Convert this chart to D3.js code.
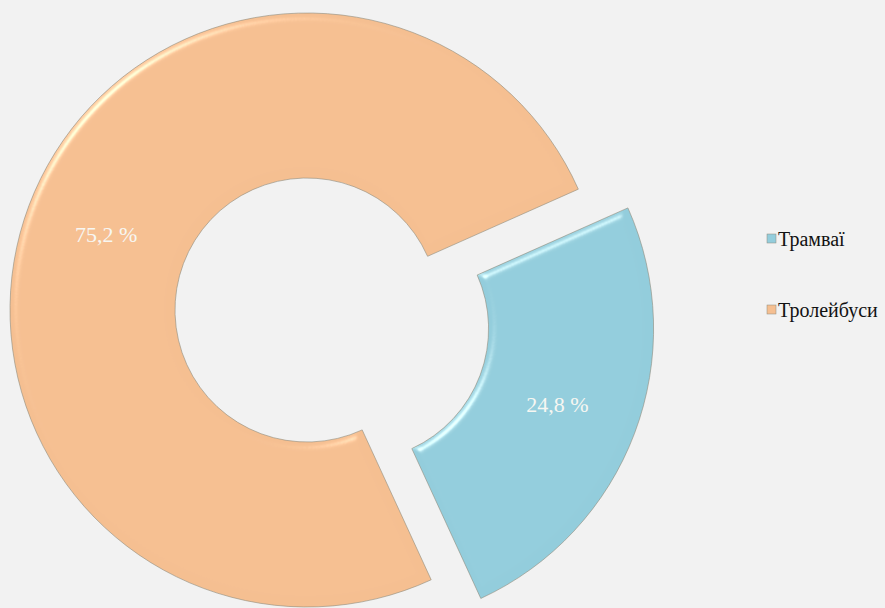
<!DOCTYPE html>
<html>
<head>
    <meta charset="utf-8">
    <title>Трамваї / Тролейбуси</title>
    <script src="https://cdn.jsdelivr.net/npm/d3@7"></script>
    <style>
        html, body {
            margin: 0;
            padding: 0;
            background: #f2f2f2;
        }
        svg {
            display: block;
        }
        .slice-label {
            font-family: "Liberation Serif", "Times New Roman", "DejaVu Serif", serif;
            font-size: 22px;
            fill: #f7f7f2;
        }
        .legend-text {
            font-family: "Liberation Serif", "Times New Roman", "DejaVu Serif", serif;
            font-size: 20px;
            fill: #111;
        }
    </style>
</head>
<body>
    <div id="chart"></div>

    <script>
        // data
        var categories = ["Трамваї", "Тролейбуси"];
        var values = [24.8, 75.2];
        var labels = ["24,8 %", "75,2 %"];
        var colors = ["#93cddc", "#f5bf91"];
        var exploded = [53, 0];

        var width = 885, height = 608;

        var svg = d3.select("#chart").append("svg")
            .attr("width", width)
            .attr("height", height);

        // soft bevel, like the office "3-D" pie look
        var defs = svg.append("defs");
        var bevel = defs.append("filter")
            .attr("id", "bevel")
            .attr("x", "-10%").attr("y", "-10%")
            .attr("width", "120%").attr("height", "120%");
        bevel.append("feGaussianBlur")
            .attr("in", "SourceAlpha")
            .attr("stdDeviation", 4)
            .attr("result", "blur");
        var spec = bevel.append("feSpecularLighting")
            .attr("in", "blur")
            .attr("surfaceScale", 4)
            .attr("specularConstant", 0.9)
            .attr("specularExponent", 60)
            .attr("lighting-color", "#fffbe8")
            .attr("result", "spec");
        spec.append("feDistantLight")
            .attr("azimuth", 225)
            .attr("elevation", 45);
        bevel.append("feComposite")
            .attr("in", "spec")
            .attr("in2", "SourceAlpha")
            .attr("operator", "in")
            .attr("result", "specIn");
        bevel.append("feComposite")
            .attr("in", "SourceGraphic")
            .attr("in2", "specIn")
            .attr("operator", "arithmetic")
            .attr("k1", 0).attr("k2", 1).attr("k3", 0.6).attr("k4", 0);

        var cx = 307, cy = 310;
        var outerR = 297, innerR = 132;
        var start = 66 * Math.PI / 180;

        var pie = d3.pie()
            .sort(null)
            .startAngle(start)
            .endAngle(start + 2 * Math.PI)
            .value(d => d);

        var arc = d3.arc()
            .innerRadius(innerR)
            .outerRadius(outerR);

        var arcs = pie(values);

        function offset(d, i) {
            var mid = (d.startAngle + d.endAngle) / 2;
            var dx = Math.sin(mid) * exploded[i];
            var dy = -Math.cos(mid) * exploded[i];
            return "translate(" + (cx + dx) + "," + (cy + dy) + ")";
        }

        var g = svg.selectAll(".slice")
            .data(arcs)
            .enter().append("g")
            .attr("class", "slice")
            .attr("transform", (d, i) => offset(d, i));

        g.append("path")
            .attr("d", arc)
            .attr("fill", (d, i) => colors[i])
            .attr("stroke", "#8f8b7c")
            .attr("stroke-width", 0.6)
            .attr("filter", "url(#bevel)");

        g.append("text")
            .attr("class", "slice-label")
            .attr("text-anchor", "middle")
            .attr("dy", "0.35em")
            .attr("transform", d => "translate(" + arc.centroid(d) + ")")
            .text((d, i) => labels[i]);

        // legend
        var legend = svg.append("g")
            .attr("transform", "translate(767,239)");

        var item = legend.selectAll(".item")
            .data(categories)
            .enter().append("g")
            .attr("class", "item")
            .attr("transform", (d, i) => "translate(0," + (i * 71) + ")");

        item.append("rect")
            .attr("x", 0)
            .attr("y", -5)
            .attr("width", 9)
            .attr("height", 9)
            .attr("fill", (d, i) => colors[i])
            .attr("stroke", "#8f8b7c")
            .attr("stroke-width", 0.5);

        item.append("text")
            .attr("class", "legend-text")
            .attr("x", 11)
            .attr("dy", "0.35em")
            .text(d => d);
    </script>
</body>
</html>
